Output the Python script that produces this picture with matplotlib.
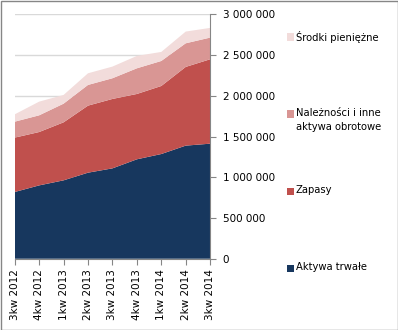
import matplotlib.pyplot as plt
from matplotlib.patches import Rectangle
from matplotlib.ticker import FuncFormatter, MultipleLocator

kwartaly = ['3kw 2012', '4kw 2012', '1kw 2013', '2kw 2013', '3kw 2013',
            '4kw 2013', '1kw 2014', '2kw 2014', '3kw 2014']
aktywa_trwale = [819000, 900000, 962000, 1056000, 1109000, 1220000, 1285000, 1388000, 1412000]
zapasy = [667000, 655000, 712000, 823000, 852000, 802000, 835000, 966000, 1036000]
naleznosci = [196000, 205000, 229000, 254000, 254000, 315000, 307000, 290000, 266000]
srodki = [90000, 168000, 107000, 143000, 143000, 152000, 111000, 144000, 119000]

nazwy = ['Aktywa trwałe', 'Zapasy', 'Należności i inne\naktywa obrotowe', 'Środki pieniężne']
kolory = ['#17375E', '#C0504D', '#D99694', '#F2DCDB']

fig = plt.figure(figsize=(3.98, 3.30), dpi=100)
ax = fig.add_axes([0.037, 0.216, 0.491, 0.7407])

x = range(len(kwartaly))
ax.stackplot(x, aktywa_trwale, zapasy, naleznosci, srodki, colors=kolory, zorder=2)

ax.set_xlim(0, len(kwartaly) - 1)
ax.set_ylim(0, 3000000)
ax.yaxis.set_major_locator(MultipleLocator(500000))
ax.yaxis.set_major_formatter(FuncFormatter(lambda v, p: f'{int(v):,}'.replace(',', ' ')))
ax.yaxis.tick_right()
ax.grid(axis='y', color='#D9D9D9', linewidth=1, zorder=0)
ax.set_axisbelow(True)

ax.set_xticks(list(x))
ax.set_xticklabels(kwartaly, rotation=90)

for s in ['left', 'top']:
    ax.spines[s].set_visible(False)
for s in ['right', 'bottom']:
    ax.spines[s].set_color('#868686')
ax.tick_params(axis='both', colors='#868686', length=4, labelcolor='black', labelsize=7.5)
ax.tick_params(axis='y', pad=5)

# legenda po prawej, od góry
for i, (n, c) in enumerate(zip(nazwy[::-1], kolory[::-1])):
    yc = 1 - (37 + 77 * i) / 330
    fig.patches.append(Rectangle((287 / 398, yc - 3.5 / 330), 7 / 398, 7 / 330,
                                 transform=fig.transFigure, facecolor=c, edgecolor='none'))
    fig.text(296 / 398, yc + 6 / 330, n, fontsize=7.2, va='top', ha='left', linespacing=1.55)

fig.patches.append(Rectangle((0.5 / 398, 0.5 / 330), 397 / 398, 329 / 330,
                             transform=fig.transFigure, facecolor='none',
                             edgecolor='#868686', linewidth=1))

fig.savefig('out.png', dpi=100)
